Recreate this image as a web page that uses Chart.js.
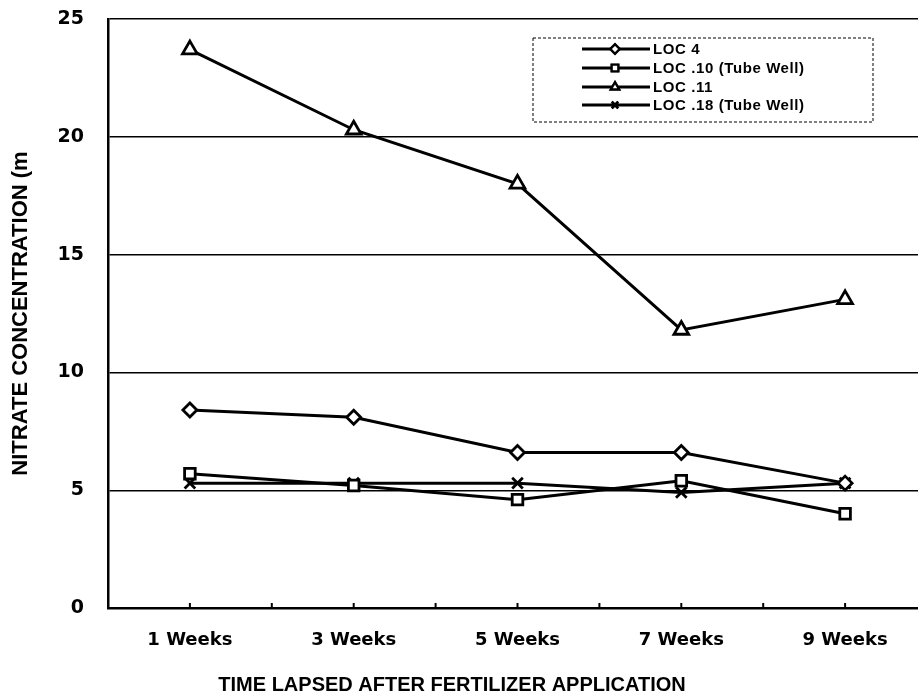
<!DOCTYPE html>
<html>
<head>
<meta charset="utf-8">
<script src="https://cdn.jsdelivr.net/npm/chart.js@4/dist/chart.umd.min.js"></script>
<style>
html,body{margin:0;padding:0;background:#fff;overflow:hidden;width:918px;height:700px;}
canvas{display:block;}
</style>
</head>
<body>
<canvas id="c" width="918" height="700"></canvas>
<script>
const categories = ["1 Weeks", "3 Weeks", "5 Weeks", "7 Weeks", "9 Weeks"];
const loc4  = [8.4, 8.1, 6.6, 6.6, 5.3];
const loc10 = [5.7, 5.2, 4.6, 5.4, 4.0];
const loc11 = [23.7, 20.3, 18.0, 11.8, 13.1];
const loc18 = [5.3, 5.3, 5.3, 4.9, 5.3];
const seriesNames = ["LOC 4", "LOC .10 (Tube Well)", "LOC .11", "LOC .18 (Tube Well)"];
const yTicks = [0, 5, 10, 15, 20, 25];
const xTitle = "TIME LAPSED AFTER FERTILIZER APPLICATION";
const yTitle = "NITRATE CONCENTRATION (m";

const styles = ["rectRot", "rect", "triangle", "crossRot"];
const radii = [7, 7.5, 8.5, 7.5];
const allData = [loc4, loc10, loc11, loc18];

const datasets = allData.map((d, i) => ({
  label: seriesNames[i],
  data: d,
  borderColor: "#000",
  borderWidth: 3,
  pointStyle: styles[i],
  pointRadius: radii[i],
  pointBorderWidth: 2.8,
  pointBackgroundColor: "#fff",
  pointBorderColor: "#000",
  tension: 0,
  fill: false,
  clip: false
}));

// the scanned plot area runs a little past the right edge of the picture
const stretch = {
  id: "stretch",
  afterLayout(chart) {
    const x = chart.scales.x;
    const newRight = chart.width + 9;
    chart.chartArea.right = newRight;
    chart.chartArea.width = newRight - chart.chartArea.left;
    x.right = newRight;
    x.width = newRight - x.left;
    x.configure();
  }
};

const extras = {
  id: "extras",
  afterDraw(chart) {
    const ctx = chart.ctx;
    const x = chart.scales.x, ca = chart.chartArea;
    ctx.save();
    ctx.strokeStyle = "#000";
    ctx.lineWidth = 2;
    for (let i = 0; i < categories.length; i++) {
      const px = x.getPixelForValue(i);
      const pts = [px];
      if (i < categories.length - 1) pts.push((px + x.getPixelForValue(i + 1)) / 2);
      pts.forEach(p => { ctx.beginPath(); ctx.moveTo(p, ca.bottom); ctx.lineTo(p, ca.bottom - 5); ctx.stroke(); });
    }
    // x title
    ctx.fillStyle = "#000";
    ctx.font = "bold 20px 'Liberation Sans', Arial, sans-serif";
    ctx.textAlign = "center";
    ctx.textBaseline = "middle";
    ctx.fillText(xTitle, 452, 685);
    // legend
    const L = {left: 533, top: 38, right: 873, bottom: 122, rowY: [49, 68, 87, 105], lx0: 582, lx1: 650, mx: 615, tx: 653};
    ctx.setLineDash([3, 2]);
    ctx.lineWidth = 1;
    ctx.strokeRect(L.left, L.top, L.right - L.left, L.bottom - L.top);
    ctx.setLineDash([]);
    ctx.font = "bold 15px 'Liberation Sans', Arial, sans-serif";
    ctx.textAlign = "left";
    try { ctx.letterSpacing = "0.6px"; } catch (e) {}
    seriesNames.forEach((n, i) => {
      const y = L.rowY[i];
      ctx.lineWidth = 2.8;
      ctx.beginPath(); ctx.moveTo(L.lx0, y); ctx.lineTo(L.lx1, y); ctx.stroke();
      ctx.fillStyle = "#fff";
      Chart.helpers.drawPoint(ctx, {pointStyle: styles[i], radius: 4.5, borderWidth: 2, rotation: 0}, L.mx, y);
      ctx.lineWidth = 2;
      ctx.fill(); ctx.stroke();
      ctx.fillStyle = "#000";
      ctx.fillText(n, L.tx, y + 1);
    });
    ctx.restore();
  }
};

new Chart(document.getElementById("c"), {
  type: "line",
  data: { labels: categories, datasets },
  options: {
    responsive: false,
    animation: false,
    layout: { padding: { top: 19, right: 0, left: 0, bottom: 0 } },
    plugins: { legend: { display: false }, tooltip: { enabled: false } },
    scales: {
      x: {
        offset: true,
        grid: { display: false, drawTicks: false },
        border: { display: true, color: "#000", width: 2.5 },
        ticks: { color: "#000", padding: 22, font: { family: "'DejaVu Sans', sans-serif", size: 18, weight: "bold" } },
        afterFit(s) { s.height = 92; s.paddingLeft = 0; s.paddingRight = 0; }
      },
      y: {
        min: 0, max: 25,
        afterBuildTicks(s) { s.ticks = yTicks.map(v => ({ value: v })); },
        grid: { color: "#000", lineWidth: 1.4, drawTicks: false },
        border: { display: true, color: "#000", width: 2.5 },
        ticks: { color: "#000", padding: 24, font: { family: "'DejaVu Sans', sans-serif", size: 19, weight: "bold" } },
        title: { display: true, text: yTitle, color: "#000", padding: { top: 8, bottom: 0 }, font: { family: "'Liberation Sans', Arial, sans-serif", size: 22, weight: "bold" } },
        afterFit(s) { s.width = 108; s.paddingTop = 0; s.paddingBottom = 0; }
      }
    }
  },
  plugins: [stretch, extras]
});
</script>
</body>
</html>
